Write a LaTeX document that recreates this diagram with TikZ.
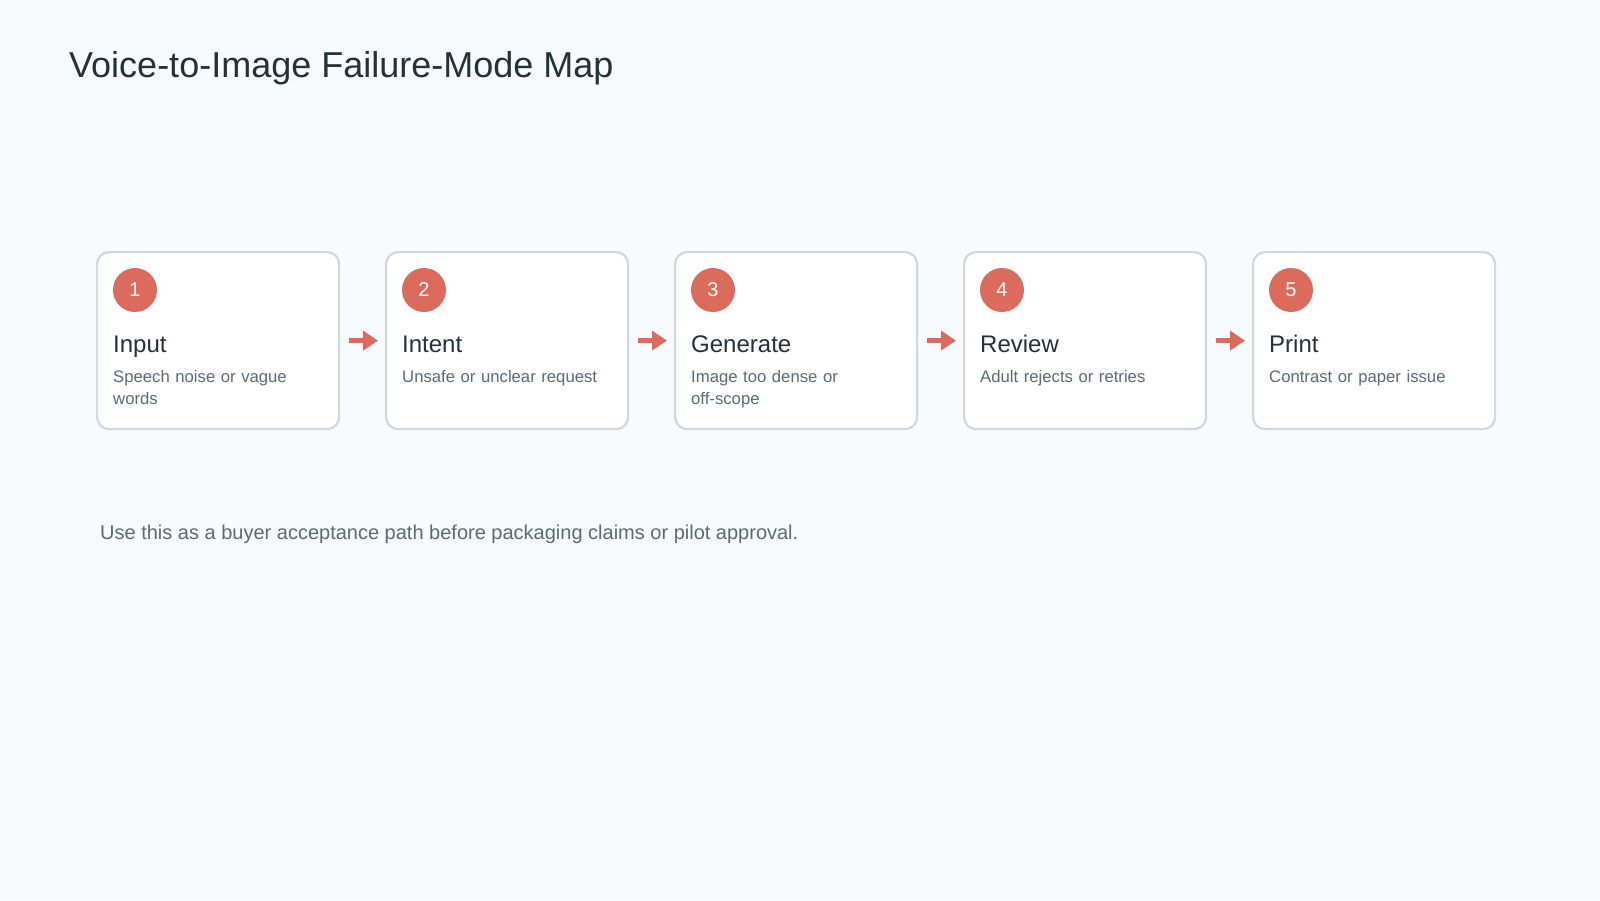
\documentclass[tikz,border=0pt]{standalone}
\usepackage{fontspec}
\setmainfont{Liberation Sans}
\usetikzlibrary{arrows.meta}
\definecolor{bgc}{HTML}{F8FBFD}
\definecolor{boxline}{HTML}{CFD8DC}
\definecolor{accent}{HTML}{DA6B5D}
\definecolor{darktext}{HTML}{263238}
\definecolor{greytext}{HTML}{5F6B73}
\tikzset{
  stagebox/.style={draw=boxline, line width=2.2pt, fill=white, rounded corners=12pt,
    minimum width=242pt, minimum height=177pt, inner sep=0pt, anchor=north west},
  badge/.style={circle, fill=accent, minimum size=44pt, inner sep=0pt,
    text=white, font=\fontsize{20}{24}\selectfont},
  stagetitle/.style={anchor=base west, inner sep=0pt, text=darktext,
    font=\fontsize{24}{28}\selectfont},
  stagedesc/.style={anchor=north west, inner sep=0pt, text=greytext, align=left,
    text width=200pt, font=\fontsize{16.7}{22.5}\selectfont},
  flowarrow/.style={draw=accent, line width=4.5pt,
    -{Triangle[length=15pt,width=19pt]}}
}
\begin{document}
\begin{tikzpicture}[x=1pt,y=-1pt]
\fill[bgc] (0,0) rectangle (1600,900);
\useasboundingbox (0,0) rectangle (1600,900);
\node[anchor=base west, inner sep=0pt, text=darktext, font=\fontsize{36}{42}\selectfont] (title) at (69,77) {Voice-to-Image Failure-Mode Map};
\foreach \i/\t/\d [count=\k from 0] in {1/Input/{Speech noise or vague\\words}, 2/Intent/{Unsafe or unclear request}, 3/Generate/{Image too dense or\\off-scope}, 4/Review/{Adult rejects or retries}, 5/Print/{Contrast or paper issue}}{
  \pgfmathsetmacro{\bx}{96+289*\k}
  \node[stagebox] (box\i) at (\bx,251) {};
  \node[badge] (badge\i) at (\bx+39,290) {\i};
  \node[stagetitle] (title\i) at (\bx+17,352.5) {\t};
  \node[stagedesc] (desc\i) at (\bx+17,370) {\d};
}
\foreach \a/\b in {1/2,2/3,3/4,4/5}{
  \draw[flowarrow] ([xshift=9pt]box\a.east) -- ([xshift=-7pt]box\b.west);
}
\node[anchor=base west, inner sep=0pt, text=greytext, font=\fontsize{20}{24}\selectfont] (footer) at (100,539) {Use this as a buyer acceptance path before packaging claims or pilot approval.};
\end{tikzpicture}
\end{document}
